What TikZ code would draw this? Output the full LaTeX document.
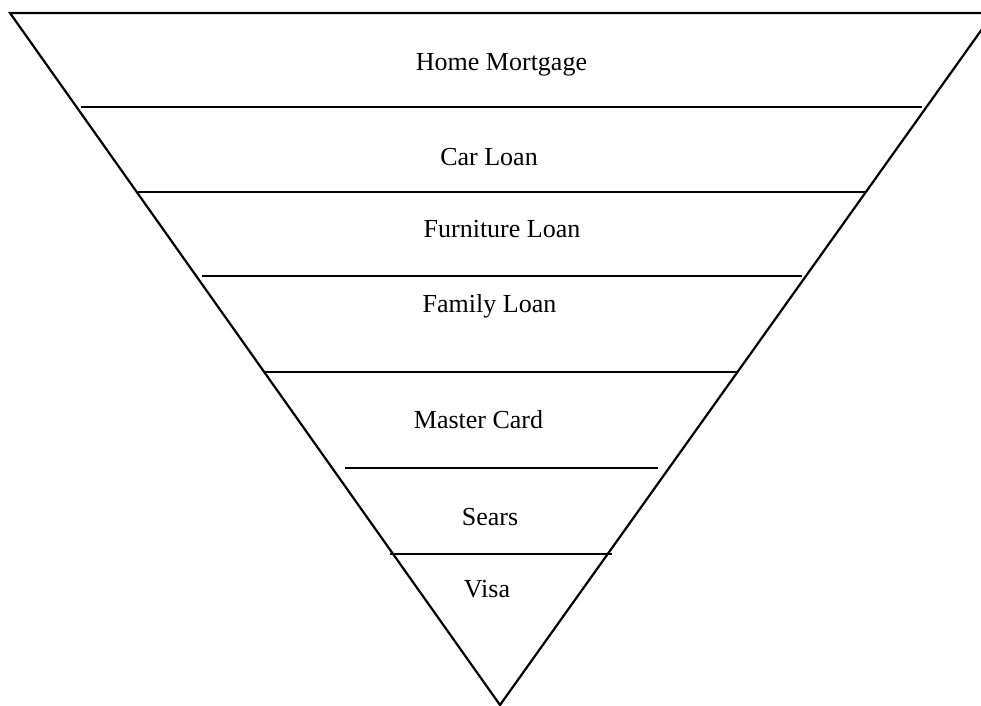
\documentclass[tikz,border=0pt]{standalone}
\usepackage{fontspec}
\setmainfont{Liberation Serif}
\begin{document}
\begin{tikzpicture}[x=1pt,y=-1pt,
  edge/.style={line width=2.2pt,black},
  tier/.style={line width=2.2pt,black},
  lbl/.style={anchor=base,inner sep=0pt,font=\fontsize{26}{30}\selectfont}]
\useasboundingbox (0,0) rectangle (981,705);
\clip (0,0) rectangle (981,705);
% triangle vertices
\coordinate (tl) at (10,13);
\coordinate (tr) at (993.5,13);
\coordinate (ap) at (500,705);
\draw[edge] (tl) -- (tr) -- (ap) -- cycle;
% tier lines
\coordinate (a1) at (81,107);  \coordinate (b1) at (922,107);
\coordinate (a2) at (138,192); \coordinate (b2) at (866,192);
\coordinate (a3) at (202,276); \coordinate (b3) at (802,276);
\coordinate (a4) at (265,372); \coordinate (b4) at (737,372);
\coordinate (a5) at (345,468); \coordinate (b5) at (658,468);
\coordinate (a6) at (390,554); \coordinate (b6) at (612,554);
\draw[tier] (a1) -- (b1);
\draw[tier] (a2) -- (b2);
\draw[tier] (a3) -- (b3);
\draw[tier] (a4) -- (b4);
\draw[tier] (a5) -- (b5);
\draw[tier] (a6) -- (b6);
% labels
\node[lbl] (home) at (501.5,70) {Home Mortgage};
\node[lbl] (car) at (489,165) {Car Loan};
\node[lbl] (furn) at (502,237) {Furniture Loan};
\node[lbl] (fam) at (489.5,312) {Family Loan};
\node[lbl] (mc) at (478.5,428) {Master Card};
\node[lbl] (sears) at (490,525) {Sears};
\node[lbl] (visa) at (487,597) {Visa};
\end{tikzpicture}
\end{document}
